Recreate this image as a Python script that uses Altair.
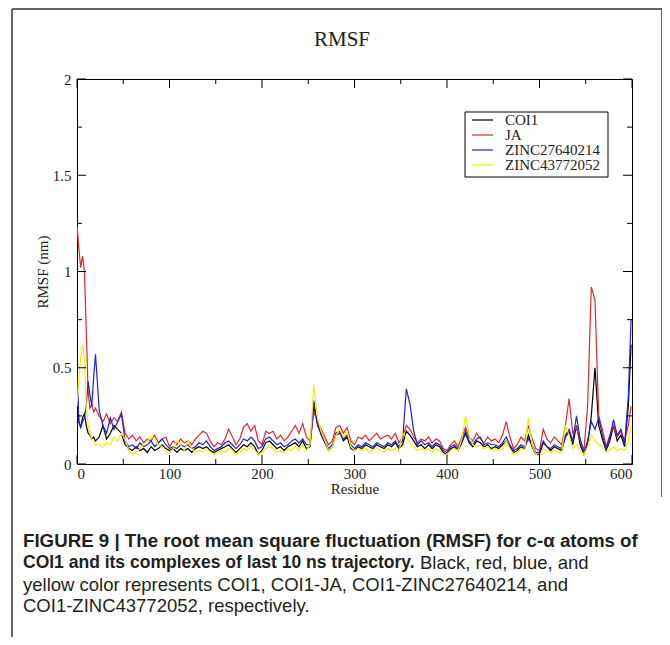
import altair as alt
import pandas as pd

# ---------------- data ----------------
residue = [0, 2, 4, 6, 8, 10, 12, 14, 16, 18, 20] + list(range(24, 597, 4)) + [599]

coi1 = [
    # 0..20 step 2
    0.42, 0.22, 0.19, 0.24, 0.26, 0.20, 0.16, 0.15, 0.13, 0.14, 0.12,
    # 24..48
    0.14, 0.20, 0.13, 0.16, 0.20, 0.18, 0.16,
    # 52..248
    0.10, 0.08, 0.07, 0.09, 0.07, 0.08, 0.06, 0.09, 0.07, 0.08,
    0.10, 0.08, 0.07, 0.08, 0.06, 0.08, 0.07, 0.08, 0.06, 0.08,
    0.09, 0.08, 0.09, 0.07, 0.06, 0.07, 0.08, 0.09, 0.10, 0.08,
    0.06, 0.08, 0.10, 0.09, 0.11, 0.09, 0.05, 0.07, 0.11, 0.12,
    0.10, 0.08, 0.09, 0.07, 0.09, 0.10, 0.11, 0.09, 0.12, 0.08,
    # 252..348
    0.09, 0.30, 0.21, 0.15, 0.11, 0.07, 0.09, 0.16, 0.17, 0.12,
    0.14, 0.08, 0.07, 0.09, 0.08, 0.10, 0.09, 0.08, 0.10, 0.09,
    0.08, 0.10, 0.09, 0.11, 0.08,
    # 352..448
    0.10, 0.17, 0.15, 0.12, 0.09, 0.10, 0.08, 0.10, 0.08, 0.10,
    0.09, 0.06, 0.05, 0.08, 0.09, 0.07, 0.11, 0.16, 0.11, 0.09,
    0.12, 0.11, 0.09, 0.10, 0.08,
    # 452..596, 599
    0.09, 0.08, 0.10, 0.12, 0.09, 0.06, 0.07, 0.09, 0.08, 0.15,
    0.09, 0.05, 0.05, 0.11, 0.09, 0.07, 0.09, 0.08, 0.07, 0.14,
    0.17, 0.10, 0.20, 0.10, 0.05, 0.10, 0.25, 0.50, 0.20, 0.13,
    0.07, 0.12, 0.20, 0.12, 0.15, 0.09, 0.30, 0.62,
]

ja = [
    1.24, 1.12, 1.02, 1.08, 1.00, 0.70, 0.38, 0.29, 0.31, 0.27, 0.29,
    0.25, 0.22, 0.26, 0.21, 0.24, 0.22, 0.27,
    0.16, 0.13, 0.15, 0.12, 0.14, 0.11, 0.13, 0.12, 0.15, 0.11,
    0.13, 0.14, 0.09, 0.12, 0.10, 0.13, 0.11, 0.12, 0.10, 0.13,
    0.15, 0.17, 0.16, 0.12, 0.09, 0.11, 0.10, 0.13, 0.18, 0.14,
    0.10, 0.13, 0.19, 0.21, 0.17, 0.20, 0.12, 0.10, 0.17, 0.16,
    0.17, 0.13, 0.15, 0.12, 0.14, 0.17, 0.20, 0.16, 0.21, 0.14,
    0.12, 0.27, 0.22, 0.18, 0.14, 0.10, 0.12, 0.19, 0.20, 0.16,
    0.19, 0.12, 0.10, 0.14, 0.13, 0.15, 0.12, 0.14, 0.16, 0.13,
    0.14, 0.15, 0.13, 0.16, 0.11,
    0.14, 0.20, 0.18, 0.14, 0.11, 0.13, 0.12, 0.14, 0.11, 0.13,
    0.12, 0.08, 0.07, 0.10, 0.12, 0.09, 0.14, 0.19, 0.14, 0.12,
    0.16, 0.13, 0.11, 0.14, 0.12,
    0.13, 0.11, 0.15, 0.22, 0.14, 0.08, 0.10, 0.14, 0.12, 0.20,
    0.13, 0.08, 0.07, 0.18, 0.13, 0.11, 0.14, 0.12, 0.10, 0.20,
    0.34, 0.16, 0.19, 0.12, 0.07, 0.30, 0.92, 0.85, 0.25, 0.18,
    0.09, 0.15, 0.20, 0.14, 0.17, 0.12, 0.20, 0.30,
]

zinc27640214 = [
    0.48, 0.22, 0.19, 0.22, 0.24, 0.30, 0.43, 0.36, 0.30, 0.45, 0.57,
    0.28, 0.20, 0.16, 0.24, 0.18, 0.22, 0.26,
    0.12, 0.09, 0.10, 0.08, 0.11, 0.09, 0.10, 0.12, 0.09, 0.11,
    0.13, 0.10, 0.08, 0.09, 0.08, 0.10, 0.09, 0.10, 0.08, 0.09,
    0.11, 0.10, 0.12, 0.09, 0.07, 0.08, 0.09, 0.11, 0.12, 0.10,
    0.08, 0.10, 0.13, 0.12, 0.14, 0.12, 0.08, 0.09, 0.13, 0.14,
    0.12, 0.10, 0.11, 0.09, 0.10, 0.12, 0.13, 0.11, 0.13, 0.10,
    0.10, 0.33, 0.20, 0.16, 0.12, 0.08, 0.10, 0.15, 0.16, 0.13,
    0.15, 0.10, 0.08, 0.10, 0.09, 0.11, 0.10, 0.09, 0.11, 0.10,
    0.09, 0.11, 0.10, 0.12, 0.09,
    0.12, 0.39, 0.31, 0.17, 0.10, 0.12, 0.10, 0.11, 0.09, 0.11,
    0.10, 0.07, 0.06, 0.09, 0.10, 0.08, 0.12, 0.17, 0.12, 0.10,
    0.13, 0.14, 0.10, 0.11, 0.10,
    0.10, 0.09, 0.11, 0.14, 0.10, 0.07, 0.08, 0.10, 0.09, 0.13,
    0.10, 0.06, 0.06, 0.12, 0.09, 0.08, 0.10, 0.09, 0.08, 0.15,
    0.18, 0.12, 0.25, 0.13, 0.06, 0.12, 0.22, 0.18, 0.24, 0.15,
    0.08, 0.14, 0.23, 0.15, 0.18, 0.10, 0.35, 0.75,
]

zinc43772052 = [
    0.30, 0.45, 0.55, 0.62, 0.55, 0.30, 0.20, 0.16, 0.13, 0.12, 0.10,
    0.10, 0.09, 0.11, 0.10, 0.14, 0.12, 0.16,
    0.13, 0.07, 0.05, 0.06, 0.08, 0.10, 0.12, 0.14, 0.13, 0.10,
    0.09, 0.07, 0.06, 0.08, 0.12, 0.10, 0.07, 0.12, 0.08, 0.06,
    0.07, 0.06, 0.08, 0.06, 0.05, 0.06, 0.07, 0.06, 0.08, 0.07,
    0.05, 0.06, 0.08, 0.07, 0.09, 0.07, 0.05, 0.06, 0.08, 0.09,
    0.08, 0.06, 0.07, 0.06, 0.08, 0.07, 0.09, 0.07, 0.10, 0.07,
    0.10, 0.41, 0.24, 0.17, 0.12, 0.07, 0.09, 0.15, 0.18, 0.14,
    0.17, 0.09, 0.07, 0.08, 0.07, 0.08, 0.06, 0.07, 0.08, 0.07,
    0.06, 0.08, 0.07, 0.08, 0.06,
    0.16, 0.14, 0.11, 0.09, 0.07, 0.08, 0.07, 0.08, 0.06, 0.08,
    0.07, 0.05, 0.05, 0.07, 0.08, 0.07, 0.13, 0.25, 0.15, 0.10,
    0.09, 0.10, 0.08, 0.09, 0.07,
    0.08, 0.07, 0.08, 0.12, 0.08, 0.05, 0.06, 0.08, 0.07, 0.24,
    0.10, 0.05, 0.04, 0.08, 0.07, 0.06, 0.07, 0.06, 0.06, 0.20,
    0.15, 0.08, 0.10, 0.07, 0.05, 0.09, 0.15, 0.12, 0.10, 0.09,
    0.06, 0.07, 0.09, 0.07, 0.08, 0.07, 0.12, 0.20,
]

series_names = ["COI1", "JA", "ZINC27640214", "ZINC43772052"]
series_values = [coi1, ja, zinc27640214, zinc43772052]
series_colors = ["#000000", "#e3262f", "#2222d6", "#f2ee00"]

x_major = [0, 100, 200, 300, 400, 500, 600]
x_minor = [50, 150, 250, 350, 450, 550]
y_major = [0, 0.5, 1, 1.5, 2]
y_minor = [0.25, 0.75, 1.25, 1.75]

title_text = "RMSF"
x_title = "Residue"
y_title = "RMSF (nm)"
caption_1 = "FIGURE 9 | The root mean square fluctuation (RMSF) for c-\u03b1 atoms of"
caption_2a = "COI1 and its complexes of last 10 ns trajectory."
caption_2b = "Black, red, blue, and"
caption_3 = "yellow color represents COI1, COI1-JA, COI1-ZINC27640214, and"
caption_4 = "COI1-ZINC43772052, respectively."

# ---------------- chart ----------------
W, H = 555, 385
SERIF = "Liberation Serif"
SANS = "Liberation Sans"

xs = alt.Scale(domain=[0, 600], nice=False, zero=False)
ys = alt.Scale(domain=[0, 2], nice=False, zero=False)

xax = alt.Axis(values=x_major, format="d", ticks=False, domain=False, grid=False,
               labelFont=SERIF, labelFontSize=15, labelColor="#222",
               labelPadding=2, title=x_title, titleFont=SERIF,
               titleFontSize=15, titleFontWeight="normal", titleColor="#222",
               titlePadding=0)
yax = alt.Axis(values=y_major, format=".1~f", ticks=False, domain=False, grid=False,
               labelFont=SERIF, labelFontSize=15, labelColor="#222",
               labelPadding=6, title=y_title, titleFont=SERIF,
               titleFontSize=15, titleFontWeight="normal", titleColor="#222",
               titlePadding=2)

df = pd.DataFrame({"residue": residue})
for name, vals in zip(series_names, series_values):
    df[name] = vals

layers = []
for name, col in zip(series_names, series_colors):
    layers.append(
        alt.Chart(df).mark_line(color=col, strokeWidth=1.2, clip=True).encode(
            x=alt.X("residue:Q", scale=xs, axis=xax),
            y=alt.Y(f"{name}:Q", scale=ys, axis=yax),
        )
    )


def ticks_x(vals, length):
    d = pd.DataFrame({"t": vals})
    bottom = alt.Chart(d).mark_rule(color="black", strokeWidth=1).encode(
        x=alt.X("t:Q", scale=xs, axis=xax), y=alt.value(H), y2=alt.value(H - length))
    top = alt.Chart(d).mark_rule(color="black", strokeWidth=1).encode(
        x=alt.X("t:Q", scale=xs, axis=xax), y=alt.value(0), y2=alt.value(length))
    return [bottom, top]


def ticks_y(vals, length):
    d = pd.DataFrame({"t": vals})
    left = alt.Chart(d).mark_rule(color="black", strokeWidth=1).encode(
        y=alt.Y("t:Q", scale=ys, axis=yax), x=alt.value(0), x2=alt.value(length))
    right = alt.Chart(d).mark_rule(color="black", strokeWidth=1).encode(
        y=alt.Y("t:Q", scale=ys, axis=yax), x=alt.value(W), x2=alt.value(W - length))
    return [left, right]


tick_layers = ticks_x(x_major, 9) + ticks_x(x_minor, 5) + ticks_y(y_major, 9) + ticks_y(y_minor, 5)

one = pd.DataFrame({"a": [0]})


def txt(s, x, y, **kw):
    return alt.Chart(pd.DataFrame({"t": [s]})).mark_text(**kw).encode(
        text="t:N", x=alt.value(x), y=alt.value(y))


def rule(x, x2, y, y2, color="#333", width=1.5):
    return alt.Chart(one).mark_rule(color=color, strokeWidth=width).encode(
        x=alt.value(x), x2=alt.value(x2), y=alt.value(y), y2=alt.value(y2))


# legend (drawn by hand, xmgrace style)
leg_layers = [alt.Chart(one).mark_rect(fill="white", stroke="black", strokeWidth=1).encode(
    x=alt.value(388), x2=alt.value(531), y=alt.value(33), y2=alt.value(98))]
for i, (name, col) in enumerate(zip(series_names, series_colors)):
    yy = 41 + 15 * i
    leg_layers.append(rule(395, 416, yy, yy, color=col, width=1.2))
    leg_layers.append(txt(name, 428, yy, align="left", baseline="middle", font=SERIF,
                          fontSize=15, color="#222"))

title = txt(title_text, 265, -39, font=SERIF, fontSize=21, color="#222",
            align="center", baseline="middle")

cap_kw = dict(font=SANS, color="#231f20", align="left", baseline="middle")
cap1 = txt(caption_1, -54, 462, fontWeight="bold", fontSize=18.7, **cap_kw)
cap2a = txt(caption_2a, -54, 484, fontWeight="bold", fontSize=17.5, **cap_kw)
cap2b = txt(caption_2b, 343, 484, fontSize=18.5, **cap_kw)
cap3 = txt(caption_3, -54, 506, fontSize=18.5, **cap_kw)
cap4 = txt(caption_4, -54, 527, fontSize=18.5, **cap_kw)

frame = [
    rule(-65, -65, -70, 566),
    rule(-65, 585, -70, -70),
    rule(585, 585, -70, 418),
]

chart = alt.layer(
    *layers, *tick_layers, *leg_layers, title,
    cap1, cap2a, cap2b, cap3, cap4, *frame
).properties(
    width=W, height=H,
    autosize=alt.AutoSizeParams(type="none"),
    padding={"left": 69, "top": 71, "right": 30, "bottom": 173},
).configure_view(stroke="black", strokeWidth=1)

chart.save("out.html", embed_options={"renderer": "svg", "actions": False})
